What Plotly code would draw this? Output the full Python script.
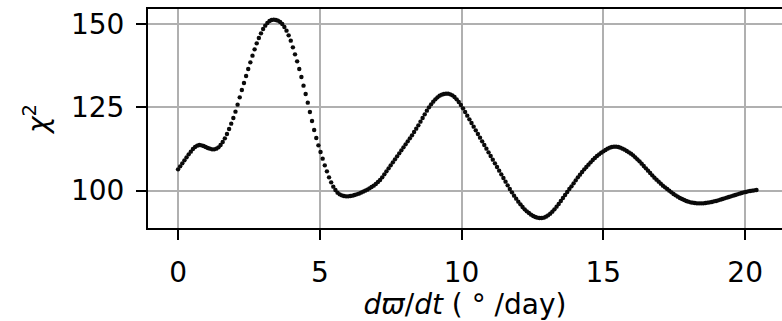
import plotly.graph_objects as go

# scan grid (deg/day) and chi-square values
X_START = 0.0
X_STEP = 0.075
chi2 = [
    106.4, 107.3, 108.2, 109.1, 110.0, 110.9, 111.7, 112.5, 113.1, 113.5,
    113.7, 113.6, 113.4, 113.1, 112.8, 112.6, 112.4, 112.4, 112.6, 113.0,
    113.7, 114.6, 115.7, 117.0, 118.5, 120.1, 121.8, 123.7, 125.8, 128.0,
    130.2, 132.3, 134.4, 136.5, 138.5, 140.5, 142.4, 144.2, 145.8, 147.2,
    148.5, 149.5, 150.3, 150.9, 151.2, 151.3, 151.2, 151.0, 150.6, 150.0,
    149.1, 148.0, 146.6, 145.0, 143.0, 140.9, 138.8, 136.5, 134.1, 131.5,
    129.0, 126.4, 123.6, 120.9, 118.2, 115.8, 113.6, 111.6, 109.6, 107.6,
    105.8, 104.0, 102.5, 101.2, 100.2, 99.4, 98.9, 98.6, 98.4, 98.3,
    98.3, 98.4, 98.5, 98.7, 98.9, 99.1, 99.4, 99.7, 100.0, 100.3,
    100.7, 101.1, 101.5, 102.0, 102.6, 103.2, 104.0, 104.9, 105.8, 106.7,
    107.6, 108.5, 109.4, 110.3, 111.2, 112.1, 113.0, 113.9, 114.8, 115.7,
    116.6, 117.6, 118.6, 119.6, 120.7, 121.8, 122.9, 124.0, 125.0, 125.9,
    126.7, 127.4, 128.0, 128.5, 128.8, 129.0, 129.1, 129.1, 128.9, 128.6,
    128.1, 127.4, 126.6, 125.7, 124.7, 123.6, 122.5, 121.4, 120.3, 119.2,
    118.1, 117.0, 115.9, 114.8, 113.7, 112.6, 111.5, 110.4, 109.3, 108.2,
    107.1, 106.0, 104.9, 103.8, 102.7, 101.6, 100.5, 99.5, 98.5, 97.6,
    96.7, 95.9, 95.1, 94.4, 93.8, 93.3, 92.8, 92.4, 92.1, 91.9,
    91.8, 91.8, 91.9, 92.2, 92.6, 93.1, 93.7, 94.4, 95.2, 96.0,
    96.9, 97.8, 98.7, 99.6, 100.5, 101.3, 102.2, 103.1, 104.0, 104.8,
    105.6, 106.4, 107.1, 107.8, 108.5, 109.2, 109.8, 110.4, 110.9, 111.4,
    111.8, 112.2, 112.6, 112.9, 113.1, 113.2, 113.2, 113.1, 112.9, 112.6,
    112.3, 111.9, 111.5, 111.1, 110.6, 110.0, 109.4, 108.8, 108.1, 107.4,
    106.7, 106.0, 105.3, 104.6, 103.9, 103.3, 102.7, 102.1, 101.5, 101.0,
    100.5, 100.0, 99.5, 99.0, 98.6, 98.2, 97.8, 97.5, 97.2, 96.9,
    96.7, 96.5, 96.4, 96.3, 96.2, 96.2, 96.2, 96.2, 96.3, 96.4,
    96.5, 96.6, 96.8, 96.9, 97.1, 97.3, 97.5, 97.7, 97.9, 98.1,
    98.3, 98.5, 98.7, 98.9, 99.1, 99.3, 99.5, 99.6, 99.8, 99.9,
    100.0, 100.1, 100.2,
]
omega_dot = [round(X_START + i * X_STEP, 3) for i in range(len(chi2))]

x_ticks = [0, 5, 10, 15, 20]
y_ticks = [100, 125, 150]

FONT = "DejaVu Sans"
FS = 28

fig = go.Figure()
fig.add_trace(go.Scatter(
    x=omega_dot, y=chi2, mode="markers",
    marker=dict(size=4.4, color="#0a0a0a", line=dict(width=0)),
    showlegend=False,
))

fig.update_layout(
    width=782, height=321,
    margin=dict(l=148, r=0, t=9, b=93),
    paper_bgcolor="white", plot_bgcolor="white",
    font=dict(family=FONT, size=FS, color="black"),
)
fig.update_xaxes(
    range=[-1.06, 21.30], tickvals=x_ticks, ticktext=[str(v) for v in x_ticks],
    showgrid=True, gridcolor="#b0b0b0", gridwidth=2, zeroline=False,
    showline=True, linecolor="black", linewidth=2, mirror=True,
    ticks="outside", ticklen=10, tickwidth=2, tickcolor="black",
    ticklabelstandoff=8,
    title=dict(text="<i>dϖ</i>/<i>dt</i> ( ° /day)",
               font=dict(family=FONT, size=FS), standoff=10),
)
fig.update_yaxes(
    range=[88.8, 154.5], tickvals=y_ticks, ticktext=[str(v) for v in y_ticks],
    showgrid=True, gridcolor="#b0b0b0", gridwidth=2, zeroline=False,
    showline=True, linecolor="black", linewidth=2, mirror=False,
    ticks="outside", ticklen=10, tickwidth=2, tickcolor="black",
    ticklabelstandoff=6,
    title=dict(text="<i>χ</i><sup>2</sup>", font=dict(family=FONT, size=FS), standoff=14),
)

fig.write_html("out.html")
